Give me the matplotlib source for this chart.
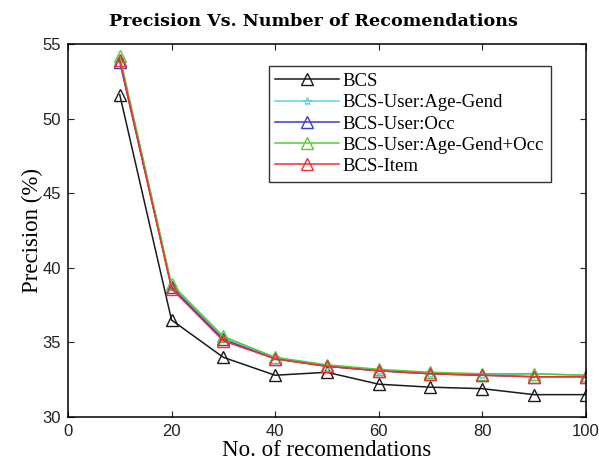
import matplotlib
matplotlib.use("Agg")
import matplotlib.pyplot as plt

n_recs = [10, 20, 30, 40, 50, 60, 70, 80, 90, 100]
bcs = [51.6, 36.5, 34.0, 32.8, 33.0, 32.2, 32.0, 31.9, 31.5, 31.5]
bcs_age_gend = [54.0, 38.8, 35.3, 34.0, 33.4, 33.1, 32.9, 32.8, 32.9, 32.8]
bcs_occ = [53.8, 38.7, 35.2, 33.9, 33.4, 33.1, 32.9, 32.8, 32.7, 32.7]
bcs_age_gend_occ = [54.2, 38.9, 35.4, 34.0, 33.5, 33.2, 33.0, 32.9, 32.9, 32.8]
bcs_item = [53.9, 38.6, 35.1, 33.9, 33.4, 33.1, 32.9, 32.8, 32.7, 32.7]

series = [
    ("BCS", bcs, "#1a1a1a", "^"),
    ("BCS-User:Age-Gend", bcs_age_gend, "#5fd3e0", "*"),
    ("BCS-User:Occ", bcs_occ, "#3a3ac8", "^"),
    ("BCS-User:Age-Gend+Occ", bcs_age_gend_occ, "#5ac83a", "^"),
    ("BCS-Item", bcs_item, "#f03030", "^"),
]

fig = plt.figure(figsize=(5.99, 4.71), dpi=100)
ax = fig.add_axes([0.1135, 0.1146, 0.8645, 0.792])

for label, vals, color, marker in series:
    ms = 6 if marker == "*" else 8
    ax.plot(n_recs, vals, color=color, marker=marker, markersize=ms,
            markerfacecolor="none", markeredgecolor=color, linewidth=1.1,
            label=label)

ax.set_xlim(0, 100)
ax.set_ylim(30, 55)
ax.set_xticks(range(0, 101, 20))
ax.set_yticks(range(30, 56, 5))
ax.tick_params(direction="in", top=True, right=True, length=4, labelsize=12,
               colors="#222222", pad=5)
for lab in ax.get_xticklabels() + ax.get_yticklabels():
    lab.set_family("Liberation Sans")
for sp in ax.spines.values():
    sp.set_linewidth(1.1)

ax.set_xlabel("No. of recomendations", family="Liberation Serif", fontsize=16.5,
              labelpad=1)
ax.set_ylabel("Precision (%)", family="Liberation Serif", fontsize=16.5,
              labelpad=0)
ax.set_title("Precision Vs. Number of Recomendations", family="DejaVu Serif",
             fontweight="heavy", fontsize=12.6, pad=13, x=0.474)

leg = ax.legend(loc="upper right", bbox_to_anchor=(0.932, 0.94),
                prop={"family": "Liberation Serif", "size": 13.5},
                fancybox=False, edgecolor="#333333", framealpha=1,
                handlelength=3.4, labelspacing=0.22, borderpad=0.35,
                handletextpad=0.2, borderaxespad=0)
leg.get_frame().set_linewidth(1.0)

fig.savefig("out.png", dpi=100)
